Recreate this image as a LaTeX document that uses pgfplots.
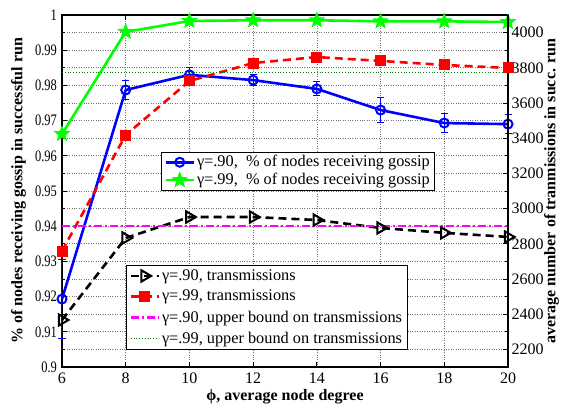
\documentclass[border=0pt]{standalone}
\usepackage{pgfplots}
\pgfplotsset{compat=1.18}
\usepackage{fontspec}
\setmainfont{Liberation Serif}
\definecolor{mblue}{rgb}{0,0,1}
\definecolor{mgreen}{rgb}{0,1,0}
\definecolor{mred}{rgb}{1,0,0}
\definecolor{mmag}{rgb}{1,0,1}
\definecolor{dgreen}{rgb}{0,0.5,0}
\pgfdeclareplotmark{fstar}{%
  \pgfpathmoveto{\pgfpointpolar{90}{\pgfplotmarksize}}%
  \pgfpathlineto{\pgfpointpolar{126}{0.42\pgfplotmarksize}}%
  \pgfpathlineto{\pgfpointpolar{162}{\pgfplotmarksize}}%
  \pgfpathlineto{\pgfpointpolar{198}{0.42\pgfplotmarksize}}%
  \pgfpathlineto{\pgfpointpolar{234}{\pgfplotmarksize}}%
  \pgfpathlineto{\pgfpointpolar{270}{0.42\pgfplotmarksize}}%
  \pgfpathlineto{\pgfpointpolar{306}{\pgfplotmarksize}}%
  \pgfpathlineto{\pgfpointpolar{342}{0.42\pgfplotmarksize}}%
  \pgfpathlineto{\pgfpointpolar{18}{\pgfplotmarksize}}%
  \pgfpathlineto{\pgfpointpolar{54}{0.42\pgfplotmarksize}}%
  \pgfpathclose\pgfusepathqfillstroke}
\newcommand{\tf}{\fontsize{16}{18}\selectfont}
\newcommand{\lgf}{\fontsize{16.3}{17}\selectfont}
\begin{document}
\tf
\begin{tikzpicture}
\pgfplotsset{
  /pgf/number format/assume math mode=true,
  legend image code/.code={\draw[mark repeat=2,mark phase=2] plot coordinates {(0pt,0pt) (14pt,0pt) (28pt,0pt)};},
  tick label style={font=\tf},
}
\begin{axis}[
  scale only axis, width=446pt, height=352pt,
  xmin=6, xmax=20, ymin=0.9, ymax=1,
  xtick={6,8,10,12,14,16,18,20},
  ytick={0.9,0.91,0.92,0.93,0.94,0.95,0.96,0.97,0.98,0.99,1},
  yticklabels={0.9,0.91,0.92,0.93,0.94,0.95,0.96,0.97,0.98,0.99,1},
  yticklabel style={font=\tf, xscale=0.78, anchor=east, xshift=-1pt},
  minor y tick num=1,
  ytick pos=left,
  grid=both,
  major grid style={black!55, dotted, line width=0.6pt},
  minor grid style={black!55, dotted, line width=0.6pt},
  axis line style={line width=1.2pt},
  tick style={black, line width=0.8pt},
  major tick length=5pt, minor tick length=3pt,
  clip=false,
  xlabel={\textbf{ϕ, average node degree}},
  ylabel={\textbf{\% of nodes receiving gossip in successful run}},
  xlabel style={font=\tf, at={(axis description cs:0.5,-0.0852)}, anchor=center},
  ylabel style={font=\tf, at={(axis description cs:-0.0975,0.5)}, anchor=center},
  legend style={at={(0.222,0.611)}, anchor=north west, draw=black, line width=0.8pt, fill=white, font=\lgf, row sep=0pt, inner xsep=3pt, inner ysep=1pt},
  legend cell align=left,
]
\coordinate (sw) at (rel axis cs:0,0);
\coordinate (ne) at (rel axis cs:1,1);
\addplot[mblue, line width=2.6pt, mark=o, mark size=4.5pt, mark options={solid, line width=2pt},
  error bars/.cd, y dir=both, y explicit, error mark options={rotate=90, mark size=3.5pt, line width=1pt}, error bar style={line width=1pt}]
  coordinates {
  (6,0.9193) +- (0,0.0113)
  (8,0.9787) +- (0,0.0026)
  (10,0.9830) +- (0,0.0020)
  (12,0.9815) +- (0,0.0015)
  (14,0.9790) +- (0,0.0020)
  (16,0.9730) +- (0,0.0035)
  (18,0.9693) +- (0,0.0027)
  (20,0.9690) +- (0,0.0028)
  };
\addlegendentry{γ=.90,\ \ \% of nodes receiving gossip}
\addplot[mgreen, line width=2.6pt, mark=fstar, mark size=7.5pt, mark options={solid, fill=mgreen, line width=1pt}]
  coordinates {
  (6,0.9662) (8,0.9952) (10,0.9983) (12,0.9985) (14,0.9985) (16,0.9982) (18,0.9982) (20,0.9980)
  };
\addlegendentry{γ=.99,\ \ \% of nodes receiving gossip}
\end{axis}
\begin{axis}[
  scale only axis, width=446pt, height=352pt,
  xmin=6, xmax=20, ymin=2100, ymax=4100,
  axis x line=none,
  axis y line*=right,
  ytick={2200,2400,2600,2800,3000,3200,3400,3600,3800,4000},
  minor y tick num=1,
  scaled y ticks=false,
  yticklabel style={/pgf/number format/1000 sep={}, font=\tf, xshift=-2pt},
  axis line style={line width=1.2pt, -},
  tick style={black, line width=0.8pt},
  major tick length=5pt, minor tick length=3pt,
  clip=false,
  ylabel={\textbf{average number of tranmissions in succ. run}},
  ylabel style={font=\tf, at={(axis description cs:1.0975,0.5)}, anchor=center},
  legend style={at={(0.1435,0.29)}, anchor=north west, draw=black, line width=0.8pt, fill=white, font=\lgf, row sep=3.5pt, inner xsep=3pt, inner ysep=2pt},
  legend cell align=left,
]
\addplot[black, line width=2.6pt, dash pattern=on 8pt off 5pt, mark=triangle, mark size=6.5pt, mark options={solid, fill=white, rotate=-90, line width=2pt}]
  coordinates {
  (6,2367) (8,2833) (10,2952) (12,2952) (14,2935) (16,2890) (18,2862) (20,2839)
  };
\addlegendentry{γ=.90, transmissions}
\addplot[mred, line width=2.6pt, dash pattern=on 8pt off 5pt, mark=square*, mark size=4.2pt, mark options={solid, fill=mred}]
  coordinates {
  (6,2759) (8,3418) (10,3725) (12,3827) (14,3861) (16,3839) (18,3816) (20,3799)
  };
\addlegendentry{γ=.99, transmissions}
\addplot[mmag, line width=2.6pt, dash pattern=on 8pt off 3pt on 2pt off 3pt]
  coordinates {(6,2900) (20,2900)};
\addlegendentry{γ=.90, upper bound on transmissions}
\addplot[dgreen, line width=0.8pt, dotted]
  coordinates {(6,3772) (20,3772)};
\addlegendentry{γ=.99, upper bound on transmissions}
\end{axis}
\pgfresetboundingbox
\path ([shift={(-62pt,-41pt)}]sw) rectangle ([shift={(56pt,15pt)}]ne);
\end{tikzpicture}
\end{document}
